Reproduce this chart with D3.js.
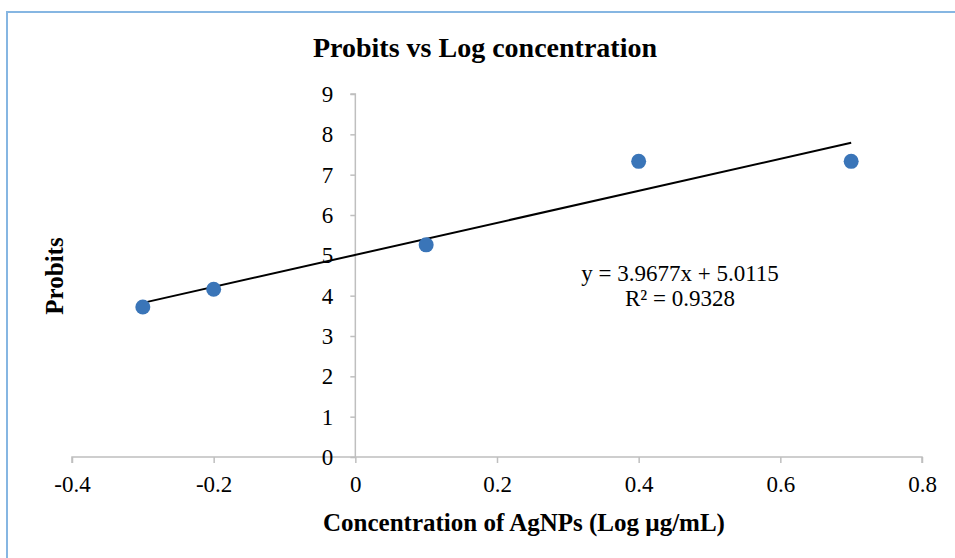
<!DOCTYPE html>
<html>
<head>
<meta charset="utf-8">
<script src="https://cdn.jsdelivr.net/npm/d3@7"></script>
<style>
  html, body { margin: 0; padding: 0; background: #fff; }
  svg { display: block; }
  text { font-family: "Liberation Serif", "Times New Roman", serif; fill: #000; }
</style>
</head>
<body>
<svg id="chart" width="955" height="558"></svg>
<script>
// ---- data ----
const logConc = [-0.3, -0.2, 0.1, 0.4, 0.7];
const probits = [3.72, 4.16, 5.26, 7.33, 7.33];
const xTicks = [-0.4, -0.2, 0, 0.2, 0.4, 0.6, 0.8];
const yTicks = [0, 1, 2, 3, 4, 5, 6, 7, 8, 9];
const xTickLabels = ["-0.4", "-0.2", "0", "0.2", "0.4", "0.6", "0.8"];
const trendSlope = [3.9677];
const trendIntercept = [5.0115];
const equationLines = ["y = 3.9677x + 5.0115", "R\u00B2 = 0.9328"];
const titleText = "Probits vs Log concentration";
const xTitle = "Concentration of AgNPs (Log \u00B5g/mL)";
const yTitle = "Probits";

const svg = d3.select("#chart");
const W = 955, H = 558;
const FONT = "Liberation Serif, Times New Roman, serif";

// outer border (top and left visible)
svg.append("path")
  .attr("d", `M7,${H} L7,12 L${W},12`)
  .attr("fill", "none").attr("stroke", "#86b6e2").attr("stroke-width", 2);

const x = d3.scaleLinear().domain([-0.4, 0.8]).range([72, 922]);
const y = d3.scaleLinear().domain([0, 9]).range([457, 94]);

// x axis at y=0
const xAxis = svg.append("g").attr("transform", `translate(0,${y(0)})`)
  .call(d3.axisBottom(x).tickValues(xTicks).tickSize(6).tickPadding(13)
    .tickFormat((d, i) => xTickLabels[i]));
xAxis.attr("font-family", FONT).attr("font-size", 23);
xAxis.select(".domain").attr("stroke", "#bfbfbf").attr("stroke-width", 1.5)
  .attr("d", `M${x(-0.4)},6V0H${x(0.8)}V6`);
xAxis.selectAll(".tick line").attr("stroke", "#bfbfbf").attr("stroke-width", 1.5);
xAxis.selectAll(".tick text").attr("fill", "#000");

// y axis at x=0
const yAxis = svg.append("g").attr("transform", `translate(${x(0)},0)`)
  .call(d3.axisLeft(y).tickValues(yTicks).tickSize(5).tickPadding(17).tickFormat(d3.format("d")));
yAxis.attr("font-family", FONT).attr("font-size", 23);
yAxis.select(".domain").attr("stroke", "#bfbfbf").attr("stroke-width", 1.5)
  .attr("d", `M-5,${y(9)}H0V${y(0)}`);
yAxis.selectAll(".tick line").attr("stroke", "#bfbfbf").attr("stroke-width", 1.5);
yAxis.selectAll(".tick text").attr("fill", "#000");

// trendline
const xMin = d3.min(logConc), xMax = d3.max(logConc);
svg.append("line")
  .attr("x1", x(xMin)).attr("y1", y(trendSlope[0] * xMin + trendIntercept[0]))
  .attr("x2", x(xMax)).attr("y2", y(trendSlope[0] * xMax + trendIntercept[0]))
  .attr("stroke", "#000").attr("stroke-width", 2);

// points
svg.append("g").selectAll("circle")
  .data(logConc.map((v, i) => [v, probits[i]]))
  .join("circle")
  .attr("cx", d => x(d[0])).attr("cy", d => y(d[1]))
  .attr("r", 7.5).attr("fill", "#3a75b8");

// equation
svg.append("g").selectAll("text").data(equationLines).join("text")
  .attr("x", 680).attr("y", (d, i) => 281 + i * 25)
  .attr("text-anchor", "middle").attr("font-size", 23).text(d => d);

// title
svg.append("text").attr("x", 485).attr("y", 57).attr("text-anchor", "middle")
  .attr("font-size", 28).attr("font-weight", "bold").text(titleText);

// axis titles
svg.append("text").attr("x", 524).attr("y", 531).attr("text-anchor", "middle")
  .attr("font-size", 25).attr("font-weight", "bold").text(xTitle);
svg.append("text").attr("transform", `translate(63,276) rotate(-90)`).attr("text-anchor", "middle")
  .attr("font-size", 25).attr("font-weight", "bold").text(yTitle);
</script>
</body>
</html>
